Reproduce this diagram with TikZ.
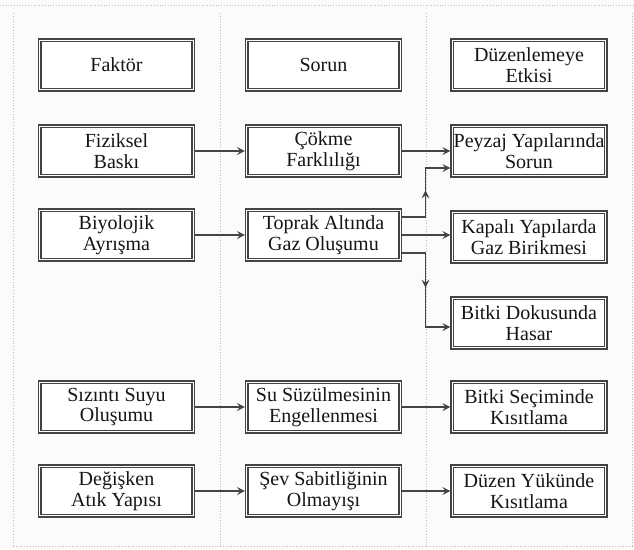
\documentclass[tikz,border=0pt]{standalone}
\usepackage{fontspec}
\setmainfont{Liberation Serif}
\usetikzlibrary{arrows.meta,decorations.markings,calc}
\definecolor{bg}{HTML}{FBFBFA}
\definecolor{ln}{HTML}{444444}
\definecolor{tx}{HTML}{151515}
\definecolor{dotc}{HTML}{BBBBBB}
\begin{document}
\begin{tikzpicture}[x=1pt,y=-1pt,
  box/.style={draw=ln, double=white, line width=1.1pt, double distance=1.4pt,
    fill=white, minimum width=153.5pt, minimum height=49.5pt, inner sep=0pt,
    outer sep=1.8pt, align=center, text=tx,
    font=\fontsize{20}{20.5}\selectfont},
  conn/.style={draw=ln, line width=1.1pt},
  tip/.tip={Stealth[length=8pt,width=8pt,inset=3pt]},
  arr/.style={conn, -tip},
  sep/.style={draw=dotc, dotted, line width=0.8pt},
  midarr/.style={postaction={decorate}, decoration={markings,
    mark=at position #1 with {\arrow{tip}}}}
]
\useasboundingbox (0,0) rectangle (634,549);
\fill[bg] (0,0) rectangle (634,549);
% dotted frame
\coordinate (tl) at (0,5);
\coordinate (tr) at (634,5);
\coordinate (bl) at (13,546);
\coordinate (br) at (634,546);
\draw[sep] (tl) -- (tr);
\draw[sep] (bl) -- (br);
\foreach \xx/\nm in {13/a,220/b,426/c,632/d}{
  \coordinate (s\nm1) at (\xx,13);
  \coordinate (s\nm2) at (\xx,546);
  \draw[sep] (s\nm1) -- (s\nm2);
}
% column 1
\node[box] (fak) at (116.5,65) {Faktör};
\node[box] (fiz) at (116.5,151) {Fiziksel\\Baskı};
\node[box] (biy) at (116.5,235) {Biyolojik\\Ayrışma};
\node[box] (siz) at (116.5,407) {Sızıntı Suyu\\Oluşumu};
\node[box] (deg) at (116.5,491) {Değişken\\Atık Yapısı};
% column 2
\node[box] (sor) at (323.5,65) {Sorun};
\node[box] (cok) at (323.5,151) {Çökme\\Farklılığı};
\node[box] (top) at (323.5,235) {Toprak Altında\\Gaz Oluşumu};
\node[box] (suz) at (323.5,407) {Su Süzülmesinin\\Engellenmesi};
\node[box] (sev) at (323.5,491) {Şev Sabitliğinin\\Olmayışı};
% column 3
\node[box] (duz) at (529,65) {Düzenlemeye\\Etkisi};
\node[box] (pey) at (529,151) {Peyzaj Yapılarında\\Sorun};
\node[box] (kap) at (529,237) {Kapalı Yapılarda\\Gaz Birikmesi};
\node[box] (bdo) at (529,323) {Bitki Dokusunda\\Hasar};
\node[box] (bse) at (529,407) {Bitki Seçiminde\\Kısıtlama};
\node[box] (dyk) at (529,491) {Düzen Yükünde\\Kısıtlama};
% connectors
\draw[arr] (fiz) -- (cok);
\draw[arr] (biy) -- (top);
\draw[arr] (siz) -- (suz);
\draw[arr] (deg) -- (sev);
\draw[arr] (cok) -- (pey);
\draw[arr] (suz) -- (bse);
\draw[arr] (sev) -- (dyk);
\draw[arr] (top.east) -- (top.east -| kap.west);
\coordinate (pin) at ([yshift=-17pt]pey.west);
\coordinate (bin) at ([yshift=-4pt]bdo.west);
\draw[arr, midarr=50pt] ([yshift=18pt]top.east) -| ([xshift=-25pt]pin) -- (pin);
\draw[arr, midarr=58pt] ([yshift=-18pt]top.east) -| ([xshift=-25pt]bin) -- (bin);
\end{tikzpicture}
\end{document}
